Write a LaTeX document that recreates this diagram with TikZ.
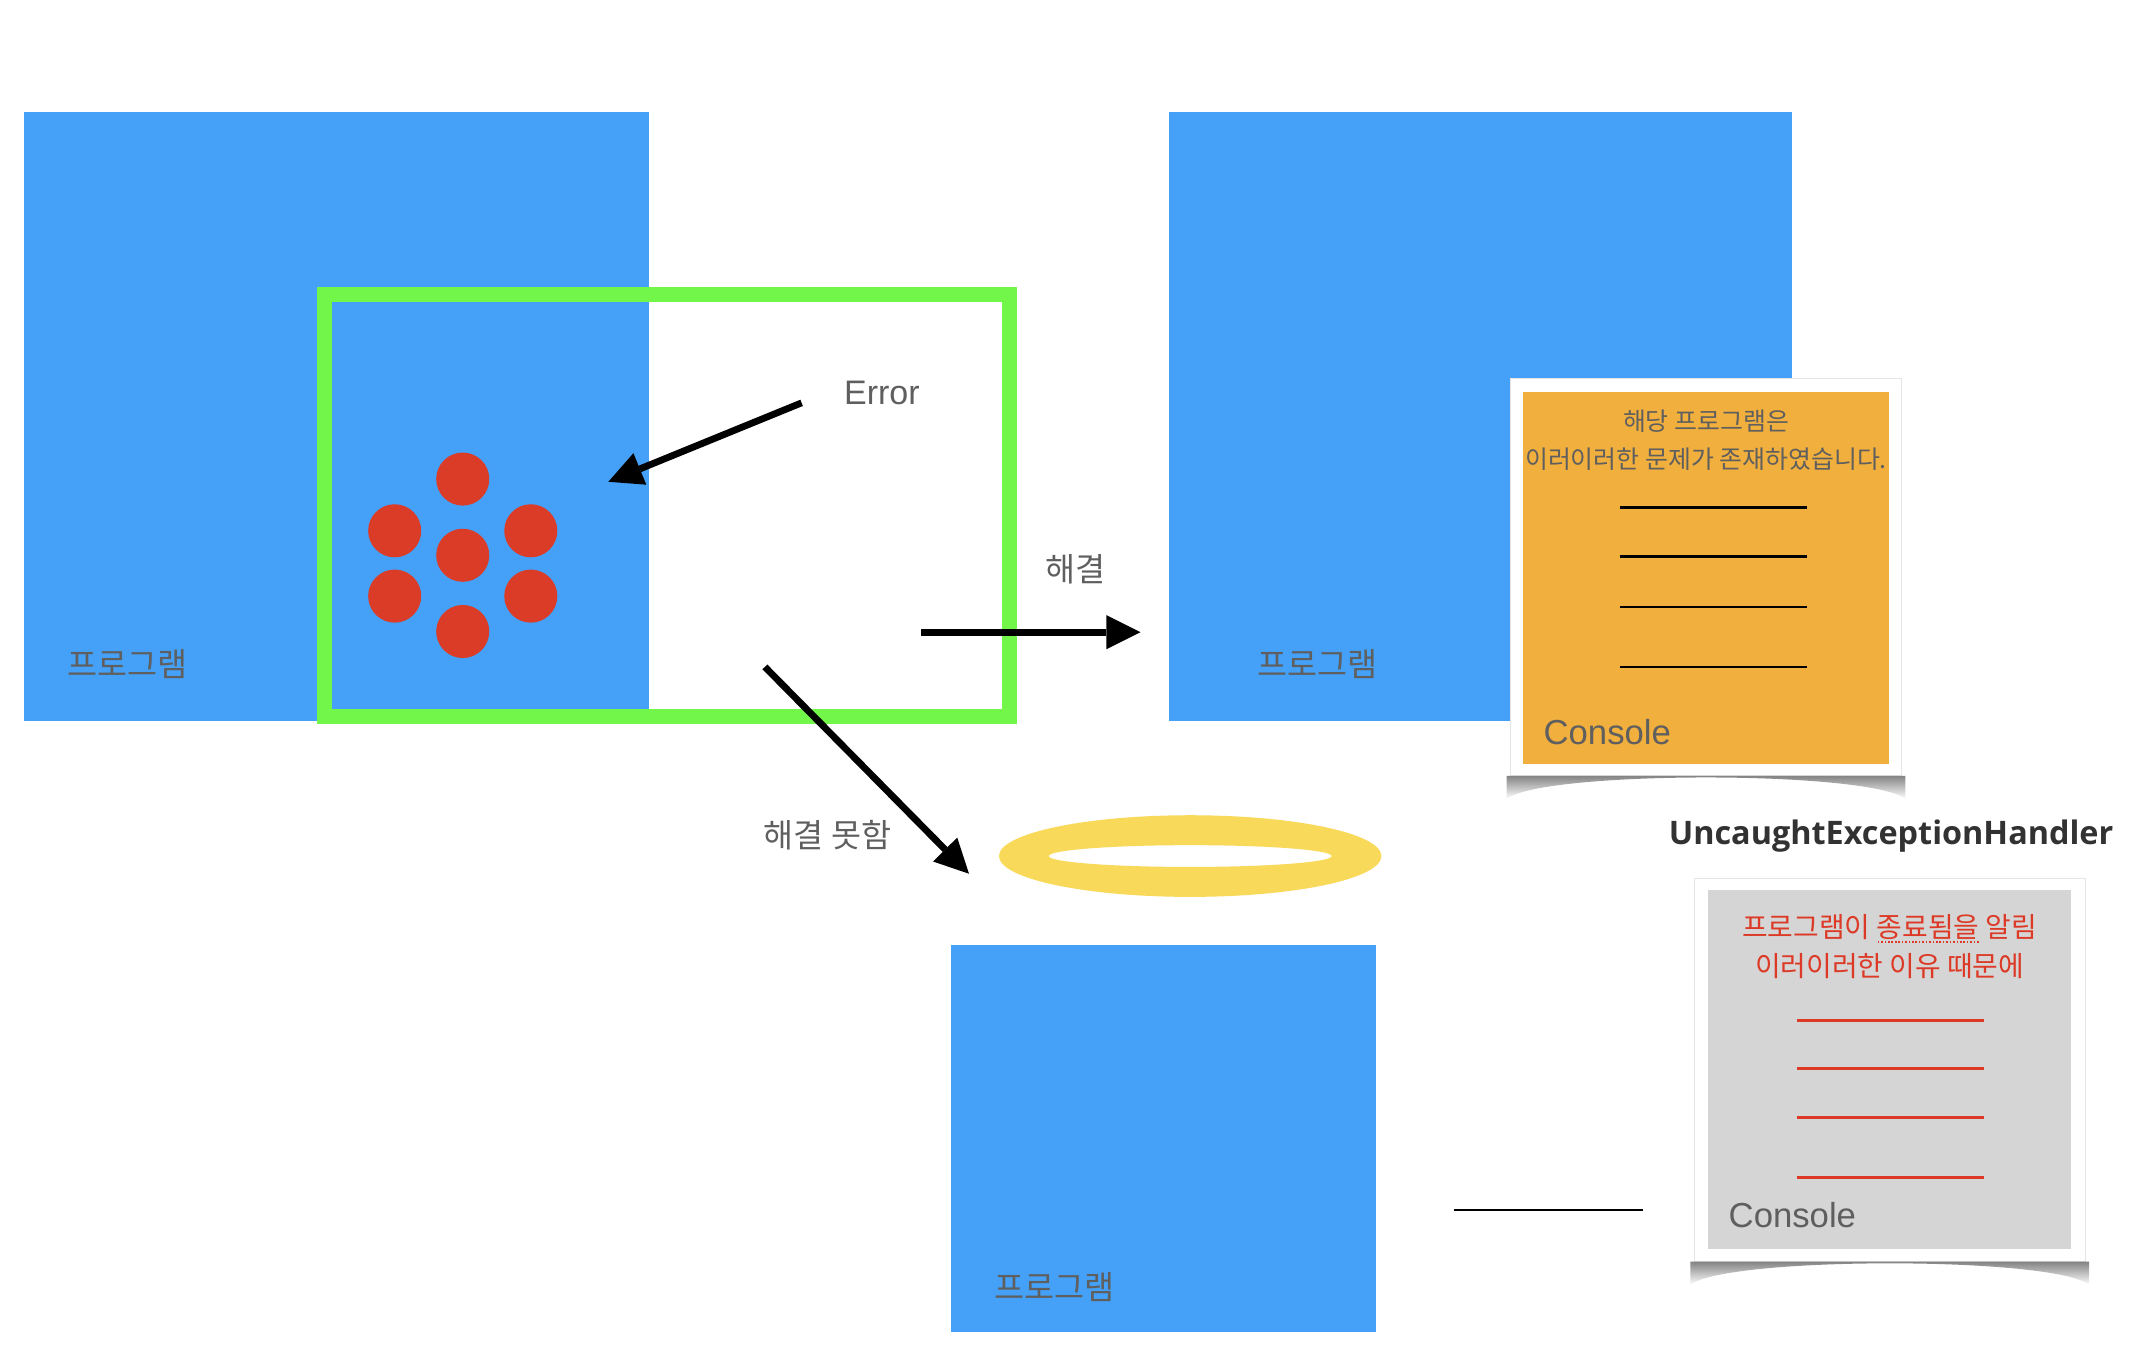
\documentclass[tikz,border=0pt]{standalone}
\usepackage{fontspec}
\setmainfont{Liberation Sans}
\newfontfamily\krfont{Noto Sans CJK KR}
\newfontfamily\hdfont{Open Sans}
\usepackage{xcolor}
\usetikzlibrary{arrows.meta,positioning,calc,fadings}
\definecolor{progblue}{RGB}{68,161,247}
\definecolor{errgreen}{RGB}{114,246,74}
\definecolor{bugred}{RGB}{218,60,40}
\definecolor{consorange}{RGB}{241,175,61}
\definecolor{consgray}{RGB}{213,213,213}
\definecolor{halogold}{RGB}{249,217,90}
\definecolor{inkgray}{RGB}{95,95,95}
\definecolor{titlegray}{RGB}{50,50,50}
\definecolor{alertred}{RGB}{220,58,38}
\newcommand{\spellmark}[1]{\setbox0\hbox{#1}\rlap{\lower 4pt\hbox to \wd0{\xleaders\hbox to 2.5pt{\hss\vrule width 1.2pt height 1.2pt\hss}\hfill}}\box0\relax}

\begin{document}
\begin{tikzpicture}[
    x=1pt, y=-1pt,
    program/.style={fill=progblue, inner sep=0pt, outer sep=0pt, anchor=north west},
    proglabel/.style={font=\krfont\fontsize{24}{28}\selectfont, text=inkgray, inner sep=0pt},
    errframe/.style={draw=errgreen, line width=11pt, inner sep=0pt, outer sep=0pt, anchor=north west},
    bug/.style={circle, fill=bugred, minimum size=39pt, inner sep=0pt},
    bigarrow/.style={-{Triangle[length=25pt, width=25pt, line width=0pt]}, line width=5pt},
    steplabel/.style={font=\krfont\fontsize{24}{28}\selectfont, text=inkgray, inner sep=0pt},
    cardframe/.style={fill=white, draw=black!10, inner sep=0pt, outer sep=0pt, anchor=north west},
    cardbody/.style={inner sep=0pt, outer sep=0pt, anchor=north west},
    consoletag/.style={font=\fontsize{25.5}{30}\selectfont, text=inkgray, inner sep=0pt, anchor=west},
    curl/.style={fill=black!60, path fading=south},
    halo/.style={fill=halogold, even odd rule}
]
    \useasboundingbox (0,0) rectangle (1568,999);

    % Program that throws
    \node[program, minimum width=459pt, minimum height=448pt] (prog1) at (18,82) {};
    \node[proglabel] (prog1lbl) at ($(prog1.south west)+(76,-42)$) {프로그램};
    \node[errframe, minimum width=503pt, minimum height=310pt] (trap) at (238.5,216.5) {};

    % The bugs
    \coordinate (nest) at (340,408);
    \foreach \dx/\dy [count=\i] in {0/-56,-50/-18,50/-18,0/0,-50/30,50/30,0/56}
        \node[bug] (bug\i) at ($(nest)+(\dx,\dy)$) {};

    \node[font=\fontsize{25}{30}\selectfont, text=inkgray, inner sep=0pt] (errlbl) at (648,289) {Error};
    \coordinate (errtail) at (589,296);
    \coordinate (errhit) at (447,354);
    \draw[bigarrow] (errtail) -- (errhit);

    % Resolved
    \node[program, minimum width=458pt, minimum height=448pt] (prog2) at (859,82) {};
    \node[proglabel] (prog2lbl) at ($(prog2.south west)+(109,-42)$) {프로그램};
    \coordinate (fixtail) at (677,464.5);
    \coordinate (fixhit) at (838,464.5);
    \draw[bigarrow] (fixtail) -- (fixhit);
    \node[steplabel] (fixlbl) at (790,418) {해결};

    \node[cardframe, minimum width=287pt, minimum height=292pt] (okcard) at (1110,278) {};
    \node[cardbody, fill=consorange, minimum width=269pt, minimum height=273pt] (okcon) at (1119,288) {};
    \node[font=\krfont\fontsize{18.3}{28}\selectfont, text=inkgray, align=center, inner sep=0pt] (okmsg) at ($(okcon.north)+(0,35.5)$) {해당 프로그램은\\이러이러한 문제가 존재하였습니다.};
    \foreach \dy in {85,121,158,202}
        \draw[line width=2pt] ($(okcon.north)+(-63.5,\dy)$) -- ++(138,0);
    \node[consoletag] (oklog) at ($(okcon.south west)+(15,-23)$) {Console};

    % Not resolved
    \coordinate (failtail) at (562,490);
    \coordinate (failhit) at (712,642);
    \draw[bigarrow] (failtail) -- (failhit);
    \node[steplabel] (faillbl) at (608,614) {해결 못함};

    \coordinate (halo) at (874.5,629);
    \fill[halo] (halo) ellipse [x radius=140.5pt, y radius=30pt] (halo) ellipse [x radius=104pt, y radius=8pt];
    \node[program, minimum width=312pt, minimum height=285pt] (prog3) at (699,694) {};
    \node[proglabel] (prog3lbl) at ($(prog3.south west)+(76,-33)$) {프로그램};

    \node[font=\hdfont\bfseries\fontsize{23.8}{28}\selectfont, text=titlegray, inner sep=0pt] (handler) at (1389.5,614) {UncaughtExceptionHandler};
    \node[cardframe, minimum width=287pt, minimum height=282pt] (failcard) at (1245,645) {};
    \node[cardbody, fill=consgray, minimum width=267pt, minimum height=264pt] (failcon) at (1255,654) {};
    \node[font=\krfont\fontsize{20.5}{29}\selectfont, text=alertred, align=center, inner sep=0pt] (failmsg) at ($(failcon.north)+(0,41.5)$) {프로그램이 \spellmark{종료됨을} 알림\\이러이러한 이유 때문에};
    \foreach \dy in {96,131,167,211}
        \draw[alertred, line width=2pt] ($(failcon.north)+(-68.5,\dy)$) -- ++(138,0);
    \node[consoletag] (faillog) at ($(failcon.south west)+(15,-25)$) {Console};

    \coordinate (linkL) at (1068,889);
    \coordinate (linkR) at (1207,889);
    \draw[line width=1.8pt] (linkL) -- (linkR);

    % Curled shadows under the consoles
    \foreach \c in {okcard,failcard}
        \fill[curl] ($(\c.south west)+(-3,0)$) -- ($(\c.south east)+(3,0)$) -- ++(0,17)
            .. controls ($(\c.south)+(120,-4)$) and ($(\c.south)+(-120,-4)$) .. ($(\c.south west)+(-3,17)$) -- cycle;

\end{tikzpicture}
\end{document}
